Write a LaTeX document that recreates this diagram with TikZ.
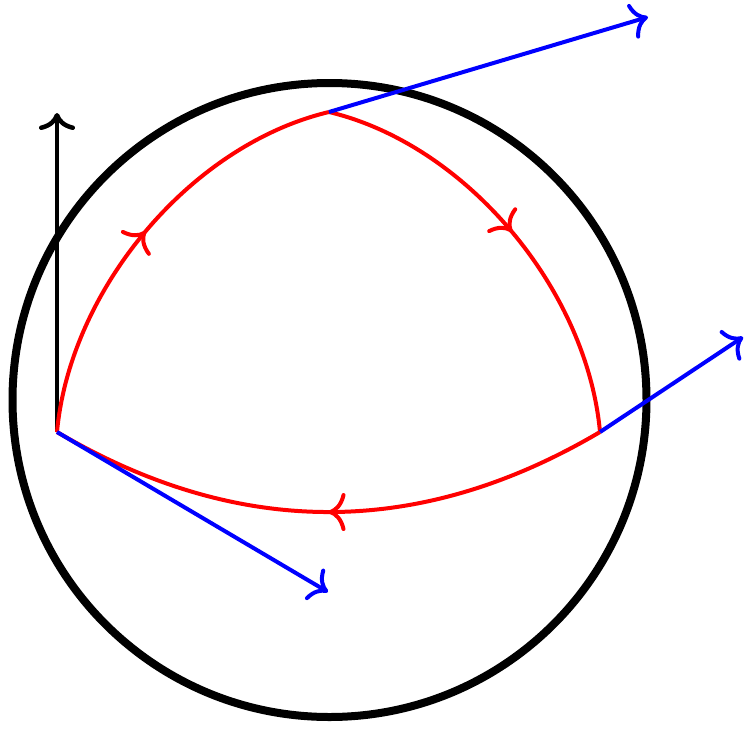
\documentclass[tikz,border=0pt]{standalone}
\usetikzlibrary{arrows.meta,decorations.markings}
\begin{document}
\begin{tikzpicture}[x=1pt,y=-1pt,
  tip/.style={-{Computer Modern Rightarrow[length=17pt,width=36pt]}},
  vec/.style={blue,line width=4pt,tip},
  edge/.style={red,line width=4pt,postaction={decorate},
    decoration={markings,mark=at position 0.5 with {\arrow{Computer Modern Rightarrow[length=17pt,width=38pt]}}}}]
\useasboundingbox (0,0) rectangle (750,729);
\coordinate (O) at (329.5,400);
\coordinate (A) at (57,432);
\coordinate (B) at (329,112);
\coordinate (C) at (600,432);
\coordinate (Ntop) at (57,113);
\coordinate (Bv) at (648,17);
\coordinate (Cv) at (743,337);
\coordinate (Av) at (328,592);
\draw[line width=8pt] (O) circle[radius=317pt];
\draw[line width=4.5pt,tip] (A) -- (Ntop);
\draw[edge] (A) .. controls (70,290) and (190,145) .. (B);
\draw[edge] (B) .. controls (467,145) and (587,290) .. (C);
\draw[edge] (C) .. controls (419.3,538.7) and (238.3,538.7) .. (A);
\draw[vec] (B) -- (Bv);
\draw[vec] (C) -- (Cv);
\draw[vec] (A) -- (Av);
\end{tikzpicture}
\end{document}
